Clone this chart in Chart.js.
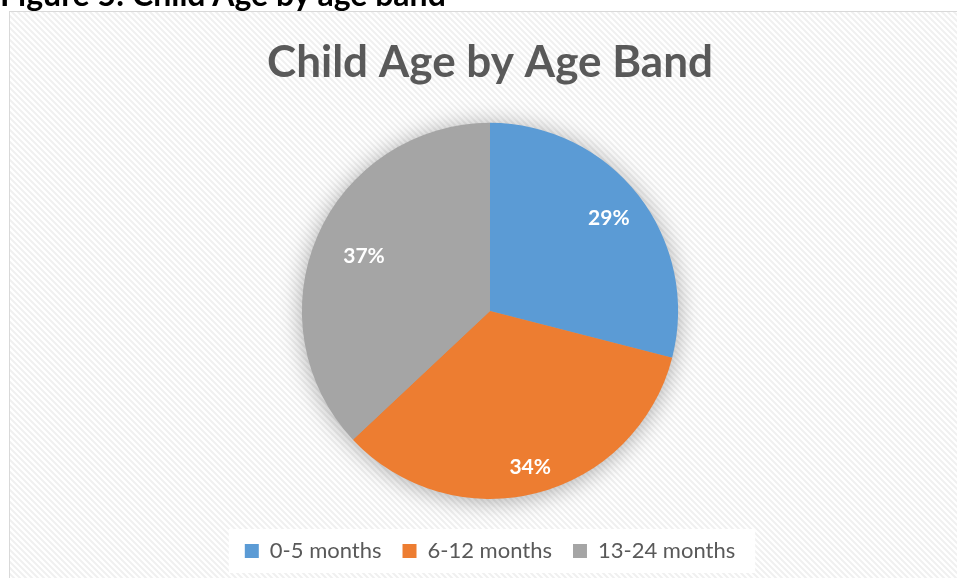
<!DOCTYPE html>
<html>
<head>
<meta charset="utf-8">
<script src="https://cdn.jsdelivr.net/npm/chart.js@4.4.1/dist/chart.umd.min.js"></script>
<style>
  body { margin: 0; background: #fff; overflow: hidden; }
  #heading {
    position: absolute; left: 0; top: -22px;
    font: bold 32px Lato, sans-serif; line-height: 32px; color: #000; white-space: nowrap;
  }
  #wrap { position: absolute; left: 0; top: 0; width: 957px; height: 578px; }
</style>
</head>
<body>
<div id="wrap"><canvas id="chart" width="957" height="578"></canvas></div>
<div id="heading">Figure 5: Child Age by age band</div>
<script>
const ageBands = ['0-5 months', '6-12 months', '13-24 months'];
const shares = [29, 34, 37];
const sliceColors = ['#5B9BD5', '#ED7D31', '#A5A5A5'];

// diagonal hatch used by the chart frame
function makeHatch() {
    const c = document.createElement('canvas');
    c.width = 6; c.height = 6;
    const g = c.getContext('2d');
    g.fillStyle = '#ffffff';
    g.fillRect(0, 0, 6, 6);
    g.strokeStyle = '#f0f0f0';
    g.lineWidth = 2;
    g.beginPath();
    g.moveTo(-1, -1); g.lineTo(7, 7);
    g.moveTo(-4, 2); g.lineTo(4, 10);
    g.moveTo(2, -4); g.lineTo(10, 4);
    g.stroke();
    return g.createPattern(c, 'repeat');
}

const framePlugin = {
    id: 'frame',
    beforeDraw(chart) {
        const ctx = chart.ctx;
        ctx.save();
        ctx.fillStyle = makeHatch();
        ctx.fillRect(10, 12, chart.width, chart.height);
        ctx.strokeStyle = '#d9d9d9';
        ctx.lineWidth = 1;
        ctx.strokeRect(9.5, 11.5, chart.width + 10, chart.height + 10);

        // white legend panel
        const boxes = chart.legend.legendHitBoxes;
        if (boxes && boxes.length) {
            const left = Math.min(...boxes.map(b => b.left)) - 16;
            const right = Math.max(...boxes.map(b => b.left + b.width)) + 20;
            const mid = boxes[0].top + boxes[0].height / 2;
            ctx.fillStyle = '#ffffff';
            ctx.fillRect(left, mid - 22, right - left, 44);
        }
        ctx.restore();
    },
    beforeDatasetsDraw(chart) {
        const arc = chart.getDatasetMeta(0).data[0];
        if (!arc) return;
        const ctx = chart.ctx;
        ctx.save();
        ctx.shadowColor = 'rgba(0,0,0,0.35)';
        ctx.shadowBlur = 24;
        ctx.shadowOffsetY = 2;
        ctx.fillStyle = '#a5a5a5';
        ctx.beginPath();
        ctx.arc(arc.x, arc.y, arc.outerRadius - 1, 0, Math.PI * 2);
        ctx.fill();
        ctx.restore();
    },
    afterDatasetsDraw(chart, args, opts) {
        const ctx = chart.ctx;
        ctx.save();
        ctx.fillStyle = '#ffffff';
        ctx.font = 'bold 21px Lato, sans-serif';
        ctx.textAlign = 'center';
        ctx.textBaseline = 'middle';
        chart.getDatasetMeta(0).data.forEach((arc, i) => {
            const p = arc.getProps(['x', 'y', 'startAngle', 'endAngle', 'outerRadius'], true);
            const mid = (p.startAngle + p.endAngle) / 2;
            const r = p.outerRadius * opts.radial[i];
            ctx.fillText(shares[i] + '%', p.x + Math.cos(mid) * r, p.y + Math.sin(mid) * r);
        });
        ctx.restore();
    }
};

new Chart(document.getElementById('chart'), {
    type: 'pie',
    data: {
        labels: ageBands,
        datasets: [{
            data: shares,
            backgroundColor: sliceColors,
            borderWidth: 0
        }]
    },
    options: {
        responsive: false,
        animation: false,
        layout: { padding: { top: 20, left: 30, right: 7, bottom: 6 } },
        plugins: {
            title: {
                display: true,
                text: 'Child Age by Age Band',
                color: '#595959',
                font: { family: 'Lato', size: 44, weight: 'bold' },
                padding: { top: 16, bottom: 34 }
            },
            legend: {
                position: 'bottom',
                title: {
                    display: true,
                    text: ' ',
                    font: { size: 10, lineHeight: 1 },
                    padding: { top: 10, bottom: 0 }
                },
                labels: {
                    color: '#595959',
                    font: { family: 'Lato', size: 22 },
                    boxWidth: 14,
                    boxHeight: 14,
                    padding: 21
                }
            },
            tooltip: { enabled: false },
            frame: { radial: [0.8, 0.86, 0.73] }
        }
    },
    plugins: [framePlugin]
});
</script>
</body>
</html>
